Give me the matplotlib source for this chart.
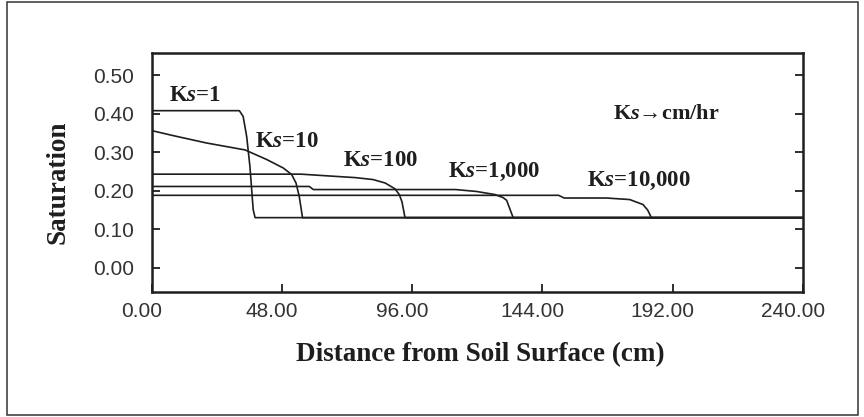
import matplotlib
matplotlib.use("Agg")
import matplotlib.pyplot as plt
import matplotlib.transforms as mtransforms
from matplotlib.patches import Rectangle

plt.rcParams["mathtext.fontset"] = "custom"
plt.rcParams["mathtext.rm"] = "Liberation Serif"
plt.rcParams["mathtext.it"] = "Liberation Serif:italic"
plt.rcParams["mathtext.bf"] = "Liberation Serif:bold:italic"

# Saturation profiles along depth for several saturated conductivities (Ks, cm/hr)
ks1_x = [0, 32.2, 33.6, 34.9, 36.1, 37.3, 38.0, 240]
ks1_y = [0.408, 0.408, 0.393, 0.341, 0.263, 0.151, 0.130, 0.130]

ks10_x = [0, 7.9, 20.1, 34.3, 42.3, 48.4, 51.5, 53.1, 54.3, 55.5, 240]
ks10_y = [0.356, 0.343, 0.324, 0.306, 0.281, 0.259, 0.242, 0.220, 0.185, 0.130, 0.130]

ks100_x = [0, 55, 66, 75, 81.5, 86, 89.6, 91.2, 92.2, 93.3, 240]
ks100_y = [0.243, 0.243, 0.238, 0.234, 0.229, 0.220, 0.205, 0.190, 0.171, 0.130, 0.130]

ks1000_x = [0, 58, 59.5, 112, 119.7, 126.5, 129.5, 130.8, 133.2, 240]
ks1000_y = [0.211, 0.211, 0.203, 0.203, 0.198, 0.190, 0.182, 0.175, 0.130, 0.130]

ks10000_x = [0, 150, 152, 167.6, 176.2, 181.1, 182.8, 184.2, 240]
ks10000_y = [0.188, 0.188, 0.181, 0.181, 0.177, 0.164, 0.150, 0.130, 0.130]

curves = [(ks1_x, ks1_y), (ks10_x, ks10_y), (ks100_x, ks100_y),
          (ks1000_x, ks1000_y), (ks10000_x, ks10000_y)]

curve_labels = [r"K$\mathbf{s}$=1", r"K$\mathbf{s}$=10", r"K$\mathbf{s}$=100",
                r"K$\mathbf{s}$=1,000", r"K$\mathbf{s}$=10,000"]
label_x = [6.3, 38.0, 70.5, 109.2, 160.5]
label_y = [0.448, 0.328, 0.278, 0.248, 0.226]

x_ticks = [0, 48, 96, 144, 192, 240]
x_ticklabels = ["0.00", "48.00", "96.00", "144.00", "192.00", "240.00"]
y_ticks = [0.0, 0.1, 0.2, 0.3, 0.4, 0.5]
y_ticklabels = ["0.00", "0.10", "0.20", "0.30", "0.40", "0.50"]

ink = "#1e1e1e"

fig = plt.figure(figsize=(8.64, 4.17), dpi=100)
fig.patch.set_facecolor("white")
ax = fig.add_axes([0.176, 0.300, 0.753, 0.573])

for xs, ys in curves:
    ax.plot(xs, ys, color=ink, lw=1.2, solid_joinstyle="round")

for txt, lx, ly in zip(curve_labels, label_x, label_y):
    ax.text(lx, ly, txt, family="Liberation Serif", fontsize=16.5,
            fontweight="bold", ha="left", va="center", color=ink)

ax.text(170.1, 0.400, r"K$\mathbf{s}$→cm/hr", family="Liberation Serif",
        fontsize=16, fontweight="bold", ha="left", va="center", color=ink)

ax.set_xlim(0, 240)
ax.set_ylim(-0.063, 0.558)
ax.set_xticks(x_ticks)
ax.set_xticklabels(x_ticklabels, family="Liberation Sans", fontsize=15, color="#333333")
ax.set_yticks(y_ticks)
ax.set_yticklabels(y_ticklabels, family="Liberation Sans", fontsize=15, color="#333333")
ax.tick_params(axis="both", direction="in", length=6, width=1.3, color=ink)
ax.tick_params(axis="x", pad=7, top=False)
ax.tick_params(axis="y", pad=13, right=True)

shift = mtransforms.ScaledTranslation(-0.10, 0, fig.dpi_scale_trans)
for lab in ax.get_xticklabels():
    lab.set_transform(lab.get_transform() + shift)

for sp in ax.spines.values():
    sp.set_linewidth(1.8)
    sp.set_color(ink)

fig.text(480 / 864, 1 - 355 / 417, "Distance from Soil Surface (cm)",
         family="Liberation Serif", fontsize=19.5, fontweight="bold",
         color=ink, ha="center", va="center")
fig.text(58 / 864, 1 - 182.5 / 417, "Saturation", family="Liberation Serif",
         fontsize=19.5, fontweight="bold", color=ink, rotation=90,
         ha="center", va="center")

fig.patches.append(Rectangle((0.0081, 0.0048), 0.985, 0.990,
                             transform=fig.transFigure, fill=False,
                             edgecolor="#333333", lw=1.1))

fig.savefig("out.png", dpi=100)
